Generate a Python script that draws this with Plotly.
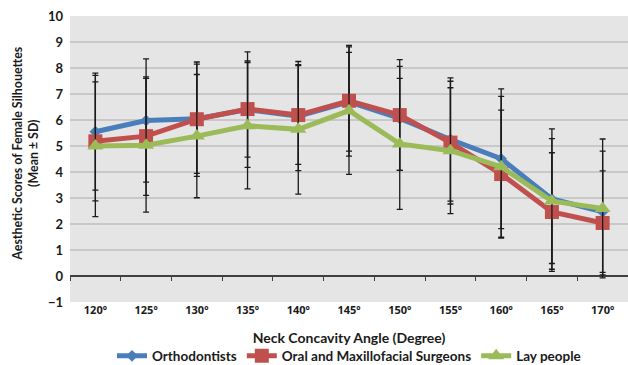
import plotly.graph_objects as go

angles = ["120º", "125º", "130º", "135º", "140º", "145º", "150º", "155º", "160º", "165º", "170º"]

orth_mean = [5.55, 5.98, 6.05, 6.40, 6.15, 6.70, 6.06, 5.25, 4.51, 2.96, 2.47]
orth_sd = [2.25, 2.37, 2.10, 2.22, 2.10, 1.90, 2.00, 2.37, 2.69, 2.70, 2.33]

oms_mean = [5.18, 5.38, 6.03, 6.42, 6.19, 6.74, 6.19, 5.13, 3.92, 2.46, 2.04]
oms_sd = [2.29, 2.28, 2.20, 1.85, 1.90, 2.13, 2.13, 2.36, 2.46, 2.28, 2.00]

lay_mean = [5.00, 5.03, 5.38, 5.78, 5.64, 6.36, 5.08, 4.82, 4.20, 2.88, 2.60]
lay_sd = [2.72, 2.57, 2.37, 2.43, 2.49, 2.45, 2.52, 2.42, 2.71, 2.40, 2.67]

series_names = ["Orthodontists", "Oral and Maxillofacial Surgeons", "Lay people"]
y_ticks = list(range(-1, 11))

FONT = "Lato"
BLUE = "#4A7EBB"
RED = "#C0504D"
GREEN = "#9BBB59"
TXT = "#1a1a1a"

fig = go.Figure()

specs = [
    (series_names[0], orth_mean, orth_sd, BLUE, "diamond", 9),
    (series_names[1], oms_mean, oms_sd, RED, "square", 14),
    (series_names[2], lay_mean, lay_sd, GREEN, "triangle-up", 14),
]
for name, mean, sd, col, sym, size in specs:
    fig.add_trace(go.Scatter(
        x=angles, y=mean, name=name, mode="lines+markers",
        line=dict(color=col, width=5),
        marker=dict(symbol=sym, size=size, color=col, line=dict(width=0)),
        error_y=dict(type="data", array=sd, visible=True, color=TXT,
                     thickness=1.3, width=3),
    ))

# invisible trace to hold the tick-mark axis at y = 0
fig.add_trace(go.Scatter(x=angles, y=[None] * len(angles), xaxis="x2",
                         showlegend=False, hoverinfo="skip", mode="lines"))

fig.update_layout(
    width=628, height=365,
    margin=dict(l=70, r=0, t=16, b=63, autoexpand=False),
    paper_bgcolor="white",
    plot_bgcolor="#E5E5E5",
    font=dict(family=FONT, size=13, color=TXT),
    showlegend=True,
    legend=dict(orientation="h", x=0.5, xanchor="center", y=-0.189, yanchor="middle",
                font=dict(family=FONT, size=13.5, color=TXT, weight="bold"),
                itemwidth=30, bgcolor="rgba(0,0,0,0)", tracegroupgap=0),
    xaxis=dict(type="category", categoryorder="array", categoryarray=angles,
               range=[-0.5, 10.5], showgrid=False, showline=False, ticks="",
               automargin=False,
               tickfont=dict(family="Open Sans", size=11, weight="bold", color=TXT),
               title=dict(text="<b>Neck Concavity Angle (Degree)</b>",
                          font=dict(family=FONT, size=14, color=TXT), standoff=17),
               fixedrange=True),
    xaxis2=dict(type="category", categoryorder="array", categoryarray=angles,
                range=[-0.5, 10.5], overlaying="x", anchor="free",
                position=1 / 11, side="bottom", showgrid=False, showline=False,
                ticks="outside", tickson="boundaries", ticklen=4,
                tickcolor="#404040", tickwidth=1.3, showticklabels=False),
    yaxis=dict(range=[-1, 10], tickvals=y_ticks, showgrid=True,
               gridcolor="#C8C8C8", gridwidth=1.5, automargin=False,
               zeroline=True, zerolinecolor="#404040", zerolinewidth=1.5,
               showline=False, ticks="", ticklabelstandoff=6,
               tickfont=dict(family=FONT, size=13, weight="bold", color=TXT)),
    annotations=[dict(
        text="<b>Aesthetic Scores of Female Silhouettes<br>(Mean ± SD)</b>",
        xref="paper", yref="paper", x=-0.08, y=0.52,
        xanchor="center", yanchor="middle", textangle=-90, showarrow=False,
        font=dict(family=FONT, size=12.4, color=TXT),
    )],
)

fig.write_html("out.html")
